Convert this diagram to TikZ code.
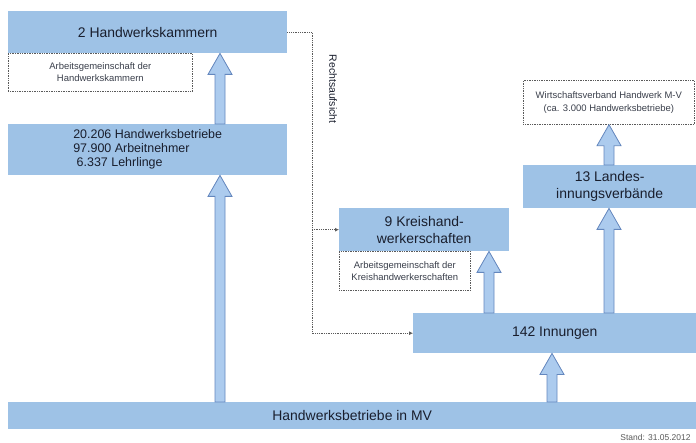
\documentclass[tikz,border=0pt]{standalone}
\usepackage{fontspec}
\setmainfont{Liberation Sans}
\usepackage{xcolor}
\definecolor{hwblue}{RGB}{158,194,230}
\definecolor{hwlight}{RGB}{172,203,238}
\definecolor{hwedge}{RGB}{100,135,190}
\definecolor{hwtext}{RGB}{25,30,45}
\definecolor{hwdot}{RGB}{90,90,90}
\usepackage{tikz}
\usetikzlibrary{arrows.meta, calc}

\tikzset{
  hwblock/.style={fill=hwblue, draw=none, anchor=north west, inner sep=2bp,
    text=hwtext, align=center, font=\fontsize{14}{17}\selectfont},
  notebox/.style={draw=hwdot, densely dotted, line width=0.7bp, fill=white,
    anchor=north west, inner sep=2bp, text=hwtext!85, align=center,
    font=\fontsize{9.5}{12.5}\selectfont},
  fatarr/.style={fill=hwlight, draw=hwedge, line width=0.8bp, line join=miter},
  aufsicht/.style={draw=hwdot, densely dotted, line width=0.8bp,
    -{Latex[length=4bp,width=4bp]}}
}

% fat block arrow: x position, from node (bottom), to node (top)
\newcommand{\fatarrow}[3]{%
  \draw[fatarr] let \p1=(#1 |- #2.north), \p2=(#1 |- #3.south) in
    (\x1-5bp,\y1) -- (\x1-5bp,\y2-21bp) -- (\x1-12bp,\y2-21bp) -- (\x1,\y2)
    -- (\x1+12bp,\y2-21bp) -- (\x1+5bp,\y2-21bp) -- (\x1+5bp,\y1) -- cycle;}

\begin{document}
\begin{tikzpicture}[x=1bp, y=-1bp]
  \useasboundingbox[fill=white] (0,0) rectangle (696,443);

  % Left column
  \node[hwblock, minimum width=279bp, minimum height=42bp] (kammer) at (8,11) {2 Handwerkskammern};
  \node[notebox, minimum width=184bp, minimum height=38bp] (agkammer) at (8,53)
       {Arbeitsgemeinschaft der\\Handwerkskammern};
  \node[hwblock, minimum width=279bp, minimum height=51bp, align=left,
        font=\fontsize{12.5}{14}\selectfont] (betriebe) at (8,124)
       {20.206 Handwerksbetriebe\\97.900 Arbeitnehmer\\~6.337 Lehrlinge};

  % Base bar
  \node[hwblock, minimum width=688bp, minimum height=27bp] (mv) at (8,402) {Handwerksbetriebe in MV};

  % Right side
  \node[hwblock, minimum width=170bp, minimum height=43bp] (kreis) at (339,208) {9 Kreishand-\\werkerschaften};
  \node[notebox, minimum width=131bp, minimum height=39bp] (agkreis) at (339,251)
       {Arbeitsgemeinschaft der\\Kreishandwerkerschaften};
  \node[hwblock, minimum width=283bp, minimum height=40bp] (innung) at (413,313) {142 Innungen};
  \node[hwblock, minimum width=173bp, minimum height=43bp] (landes) at (523,165) {13 Landes-\\innungsverbände};
  \node[notebox, minimum width=171bp, minimum height=44bp] (wirtschaft) at (523,80)
       {Wirtschaftsverband Handwerk M-V\\(ca. 3.000 Handwerksbetriebe)};

  % Arrow positions
  \coordinate (xl) at (220,0);
  \coordinate (xk) at (489,0);
  \coordinate (xi) at (552,0);
  \coordinate (xv) at (609,0);

  \fatarrow{xl}{betriebe}{kammer}
  \fatarrow{xl}{mv}{betriebe}
  \fatarrow{xi}{mv}{innung}
  \fatarrow{xk}{innung}{kreis}
  \fatarrow{xv}{innung}{landes}
  \fatarrow{xv}{landes}{wirtschaft}

  % Rechtsaufsicht
  \coordinate (rv) at (312,0);
  \draw[aufsicht] (kammer.east) -- (kammer.east -| rv) -- (innung.west -| rv) -- (innung.west);
  \draw[aufsicht] (kreis.west -| rv) -- (kreis.west);
  \node[rotate=-90, font=\fontsize{10.5}{12}\selectfont, text=hwtext] (recht) at (333,89) {Rechtsaufsicht};

  % Date
  \node[anchor=east, font=\fontsize{8.5}{10}\selectfont, text=hwdot] (stand) at (694,437) {Stand: 31.05.2012};
\end{tikzpicture}
\end{document}
